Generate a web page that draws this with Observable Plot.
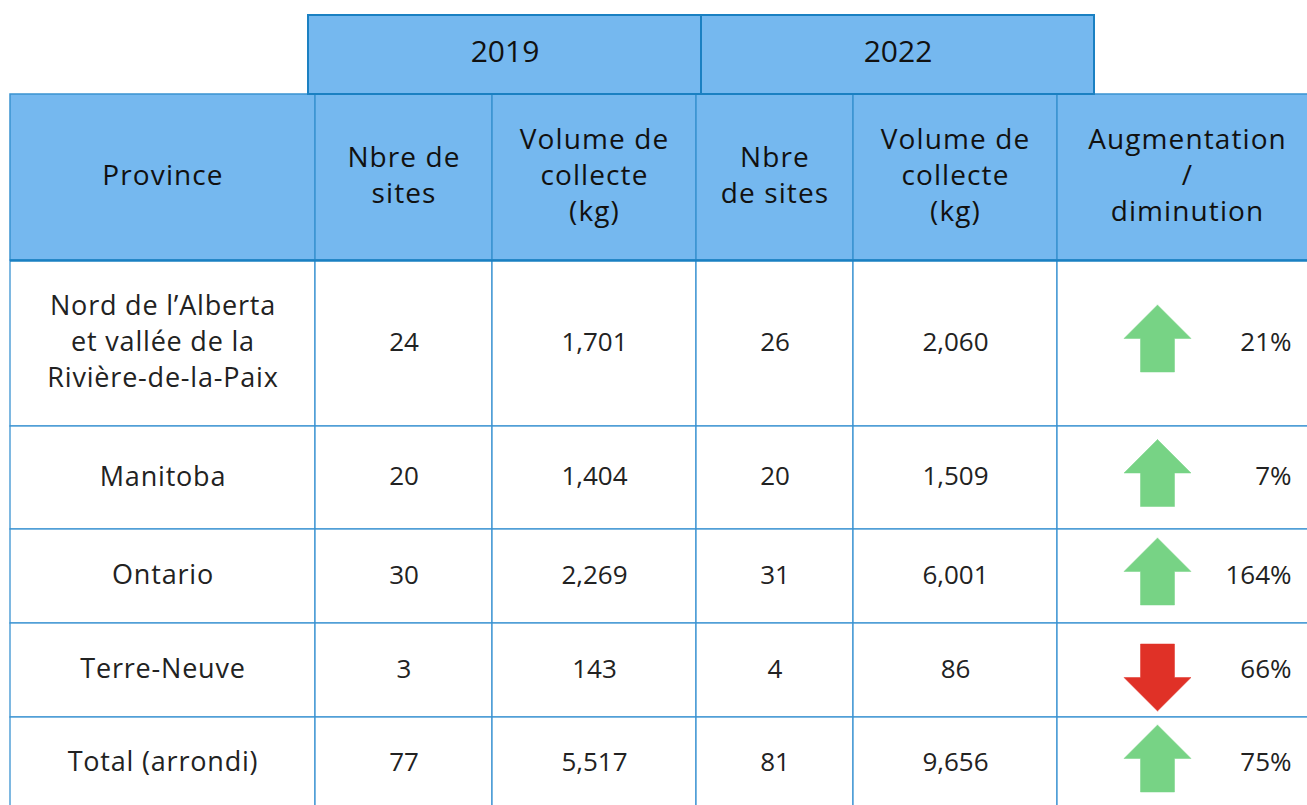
<!DOCTYPE html>
<html>
<head>
<meta charset="utf-8">
<script src="https://cdn.jsdelivr.net/npm/d3@7"></script>
<script src="https://cdn.jsdelivr.net/npm/@observablehq/plot@0.6"></script>
<style>
  html, body { margin: 0; padding: 0; background: #fff; }
  #chart svg { display: block; }
  .wide text { letter-spacing: 1.1px; }
  .semi text { letter-spacing: 0.8px; }
</style>
</head>
<body>
<div id="chart"></div>
<script>
// ---------- data ----------
const years = ["2019", "2022"];
const headers = [
  "Province",
  "Nbre de\nsites",
  "Volume de\ncollecte\n(kg)",
  "Nbre\nde sites",
  "Volume de\ncollecte\n(kg)",
  "Augmentation\n/\ndiminution"
];
const provinces = [
  "Nord de l’Alberta\net vallée de la\nRivière-de-la-Paix",
  "Manitoba",
  "Ontario",
  "Terre-Neuve",
  "Total (arrondi)"
];
const sites2019 = [24, 20, 30, 3, 77];
const volume2019 = [1701, 1404, 2269, 143, 5517];
const sites2022 = [26, 20, 31, 4, 81];
const volume2022 = [2060, 1509, 6001, 86, 9656];
const changePct = [21, 7, 164, -66, 75];

// ---------- layout ----------
const W = 1307, H = 805;
const colEdges = [10, 315, 492, 696, 853, 1057, 1317];
const rowEdges = [260, 426, 529, 623, 717, 830];
const headTop = 94;
const yearTop = 15;
const yearEdges = [308, 701, 1094];
const FONT = "'Open Sans', 'Noto Sans', sans-serif";
const headFill = "#75b8ef";
const darkLine = "#1a80c2";
const gridLine = "#3a93d1";
const green = "#77d385";
const red = "#e03127";
const fmt = d3.format(",");

const yearCells = years.map((y, i) => ({
  x1: yearEdges[i], x2: yearEdges[i + 1], y1: yearTop, y2: headTop, label: y
}));
const headCells = headers.map((h, i) => ({
  x1: colEdges[i], x2: colEdges[i + 1], y1: headTop, y2: rowEdges[0], label: h
}));
const bodyCells = [];
const nameText = [];
const numText = [];
const pctText = [];
const arrows = [];
provinces.forEach((p, r) => {
  const y1 = rowEdges[r], y2 = rowEdges[r + 1];
  const yc = r === provinces.length - 1 ? (y1 + 809) / 2 : (y1 + y2) / 2;
  const nums = [sites2019[r], volume2019[r], sites2022[r], volume2022[r]];
  for (let i = 0; i < 6; i++) bodyCells.push({x1: colEdges[i], x2: i === 5 ? 1330 : colEdges[i + 1], y1, y2});
  nameText.push({x: (colEdges[0] + colEdges[1]) / 2, y: yc, label: p});
  nums.forEach((v, k) => numText.push({x: (colEdges[k + 1] + colEdges[k + 2]) / 2, y: yc, label: fmt(v)}));
  pctText.push({x: 1291, y: yc, label: Math.abs(changePct[r]) + "%"});
  const dir = changePct[r] >= 0 ? 1 : -1;
  const cx = 1157, cy = dir > 0 ? yc - 5 : yc + 7, hw = 33.5, sw = 17, hh = 33.5;
  const pts = [
    [cx, cy - hh * dir], [cx + hw, cy], [cx + sw, cy], [cx + sw, cy + hh * dir],
    [cx - sw, cy + hh * dir], [cx - sw, cy], [cx - hw, cy], [cx, cy - hh * dir]
  ];
  pts.forEach(([x, y]) => arrows.push({x, y, row: r, up: dir > 0}));
});

const chart = Plot.plot({
  width: W,
  height: H,
  margin: 0,
  x: {domain: [0, W], range: [0, W], axis: null},
  y: {domain: [0, H], range: [0, H], axis: null},
  style: {fontFamily: FONT, background: "#fff"},
  marks: [
    Plot.rect(bodyCells, {x1: "x1", x2: "x2", y1: "y1", y2: "y2", fill: "#fff", stroke: gridLine, strokeWidth: 1.3}),
    Plot.rect(headCells, {x1: "x1", x2: d => d.x2 > 1300 ? 1330 : d.x2, y1: "y1", y2: "y2", fill: headFill, stroke: gridLine, strokeWidth: 1.5}),
    Plot.ruleY([rowEdges[0]], {x1: colEdges[0], x2: W, stroke: darkLine, strokeWidth: 2.5}),
    Plot.rect(yearCells, {x1: "x1", x2: "x2", y1: "y1", y2: "y2", fill: headFill, stroke: darkLine, strokeWidth: 2}),
    Plot.text(yearCells, {
      x: d => (d.x1 + d.x2) / 2, y: d => (d.y1 + d.y2) / 2, dy: -3, text: "label",
      fontSize: 30, fill: "#111", lineAnchor: "middle"
    }),
    Plot.text(headCells, {
      x: d => (d.x1 + d.x2) / 2, y: d => (d.y1 + d.y2) / 2, dy: -4, text: "label",
      fontSize: 28, fill: "#111", lineAnchor: "middle", lineHeight: 1.29, className: "wide"
    }),
    Plot.text(nameText, {
      x: "x", y: "y", dy: -4, text: "label",
      fontSize: 27, fill: "#222", lineAnchor: "middle", lineHeight: 1.333, className: "semi"
    }),
    Plot.text(numText, {
      x: "x", y: "y", dy: -1, text: "label",
      fontSize: 26, fill: "#222", lineAnchor: "middle"
    }),
    Plot.text(pctText, {
      x: "x", y: "y", dy: -1, text: "label", textAnchor: "end",
      fontSize: 26, fill: "#222", lineAnchor: "middle"
    }),
    Plot.line(arrows.filter(d => d.up), {x: "x", y: "y", z: "row", fill: green, stroke: green, strokeWidth: 0.5, curve: "linear"}),
    Plot.line(arrows.filter(d => !d.up), {x: "x", y: "y", z: "row", fill: red, stroke: red, strokeWidth: 0.5, curve: "linear"})
  ]
});
document.getElementById("chart").appendChild(chart);
</script>
</body>
</html>
